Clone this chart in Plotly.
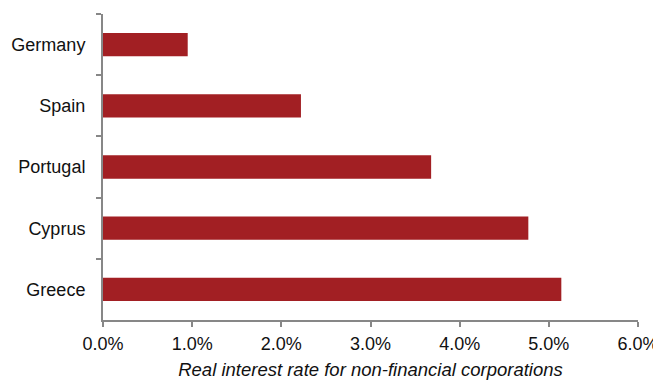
import plotly.graph_objects as go

countries = ["Germany", "Spain", "Portugal", "Cyprus", "Greece"]
rates = [0.0095, 0.0222, 0.0368, 0.0477, 0.0514]
x_title = "Real interest rate for non-financial corporations"

fig = go.Figure(go.Bar(
    x=rates, y=countries, orientation="h",
    marker=dict(color="#A21F23", line=dict(width=0)),
))

axis_col = "#878787"
# page body has an 8px default margin; size the figure to fill the rest
fig.update_layout(
    width=653, height=372,
    margin=dict(l=95, r=23, t=6, b=60, autoexpand=False),
    paper_bgcolor="white", plot_bgcolor="white",
    bargap=0.62,
    showlegend=False,
    font=dict(family="Liberation Sans, Arial, sans-serif", size=18, color="#111111"),
)
fig.update_xaxes(
    range=[0, 0.06], dtick=0.01, tickformat=".1%",
    showgrid=False, zeroline=False, automargin=False,
    showline=True, linecolor=axis_col, linewidth=2,
    ticks="outside", ticklen=5, tickcolor=axis_col, tickwidth=2,
    ticklabelstandoff=1,
    title=dict(text=x_title, font=dict(size=18.5, style="italic"), standoff=10),
)
fig.update_yaxes(
    autorange="reversed",
    showgrid=False, zeroline=False, automargin=False,
    showline=True, linecolor=axis_col, linewidth=2,
    ticks="outside", ticklen=5, tickcolor=axis_col, tickwidth=2,
    tickson="boundaries", ticklabelstandoff=12,
)

fig.write_html("out.html")
